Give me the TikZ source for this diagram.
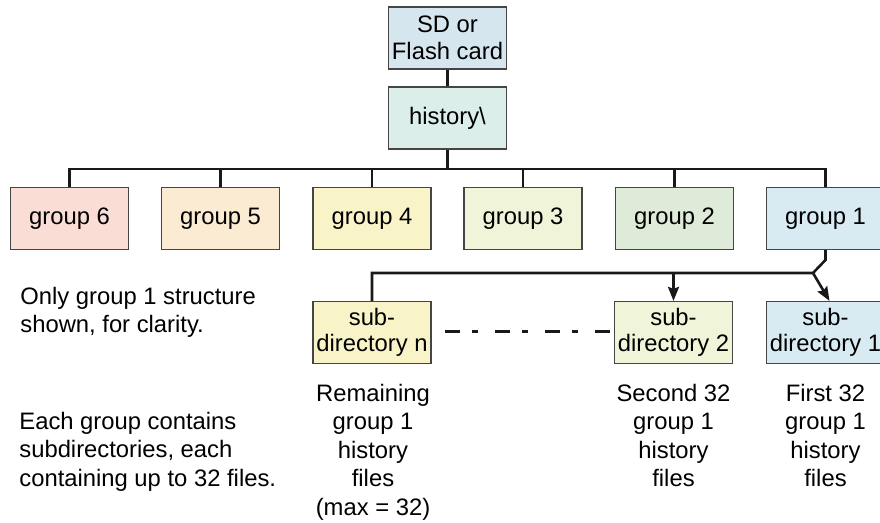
\documentclass[tikz,border=0pt]{standalone}
\usepackage{fontspec}
\setmainfont{Liberation Sans}
\usetikzlibrary{arrows.meta}

\definecolor{cardblue}{HTML}{D6E6EE}
\definecolor{histteal}{HTML}{DCEEEA}
\definecolor{grpsix}{HTML}{FADDD4}
\definecolor{grpfive}{HTML}{FBEBD2}
\definecolor{grpfour}{HTML}{F8F4C8}
\definecolor{grpthree}{HTML}{F0F4D8}
\definecolor{grptwo}{HTML}{DEEBD8}
\definecolor{grpone}{HTML}{D8EAF2}
\definecolor{boxline}{HTML}{454545}

\tikzset{
  dirbox/.style={draw=boxline, line width=0.6pt, minimum width=59pt, minimum height=31pt,
    inner sep=0pt, align=center, font=\fontsize{11.9}{13.3}\selectfont},
  conn/.style={line width=1.3pt, draw=black!90},
  tip/.style={-{Stealth[length=7pt, width=5.5pt, inset=1pt]}},
  note/.style={inner sep=0pt, font=\fontsize{11.9}{14.3}\selectfont},
}

\begin{document}
\begin{tikzpicture}[x=0.5pt, y=-0.5pt]
    \useasboundingbox (0,0) rectangle (880,523);
    % Card and history folder
    \node[dirbox, fill=cardblue] (card) at (447.5,38) {SD or\\Flash card};
    \node[dirbox, fill=histteal] (hist) at (447.5,118) {history\textbackslash};
    \draw[conn] (card) -- (hist);
    % Six group folders on one bus
    \foreach \n/\xx/\col in {6/69.5/grpsix, 5/220.5/grpfive, 4/372/grpfour,
                             3/523/grpthree, 2/674.5/grptwo, 1/825.5/grpone}
        \node[dirbox, fill=\col] (g\n) at (\xx,218.5) {group \n};
    \coordinate (bus) at (447.5,169);
    \draw[conn] (hist.south) -- (bus);
    \foreach \n in {1,...,6}
        \draw[conn] (g\n.north) |- (bus);
    % Subdirectories of group 1
    \node[dirbox, fill=grpfour] (subn) at (372,332.5) {sub-\\directory n};
    \node[dirbox, fill=grpthree] (subtwo) at (673.5,332.5) {sub-\\directory 2};
    \node[dirbox, fill=grpone] (subone) at (825.5,332.5) {sub-\\directory 1};
    \coordinate (kink) at (825.5,260);
    \coordinate (split) at (813,273);
    \draw[conn] (g1.south) -- (kink) -- (split) -| (subn.north);
    \draw[conn, tip] (split) -- ([xshift=2pt]subone.north);
    \draw[conn, tip] (split -| subtwo.north) -- (subtwo.north);
    \coordinate (gapstart) at (445,331.5);
    \draw[conn, dash pattern=on 7.5pt off 6pt on 3pt off 8.5pt] (gapstart) -- (gapstart -| subtwo.west);
    % Notes
    \node[note, anchor=north west, align=left] (onlynote) at (20,286.5)
        {Only group 1 structure\\shown, for clarity.};
    \node[note, anchor=north west, align=left] (eachnote) at (19,411.5)
        {Each group contains\\subdirectories, each\\containing up to 32 files.};
    \node[note, anchor=north, align=center] (restfiles) at (373,383.5)
        {Remaining\\group 1\\history\\files\\(max = 32)};
    \node[note, anchor=north, align=center] (secondfiles) at (673.5,383.5)
        {Second 32\\group 1\\history\\files};
    \node[note, anchor=north, align=center] (firstfiles) at (825.5,383.5)
        {First 32\\group 1\\history\\files};
\end{tikzpicture}
\end{document}
